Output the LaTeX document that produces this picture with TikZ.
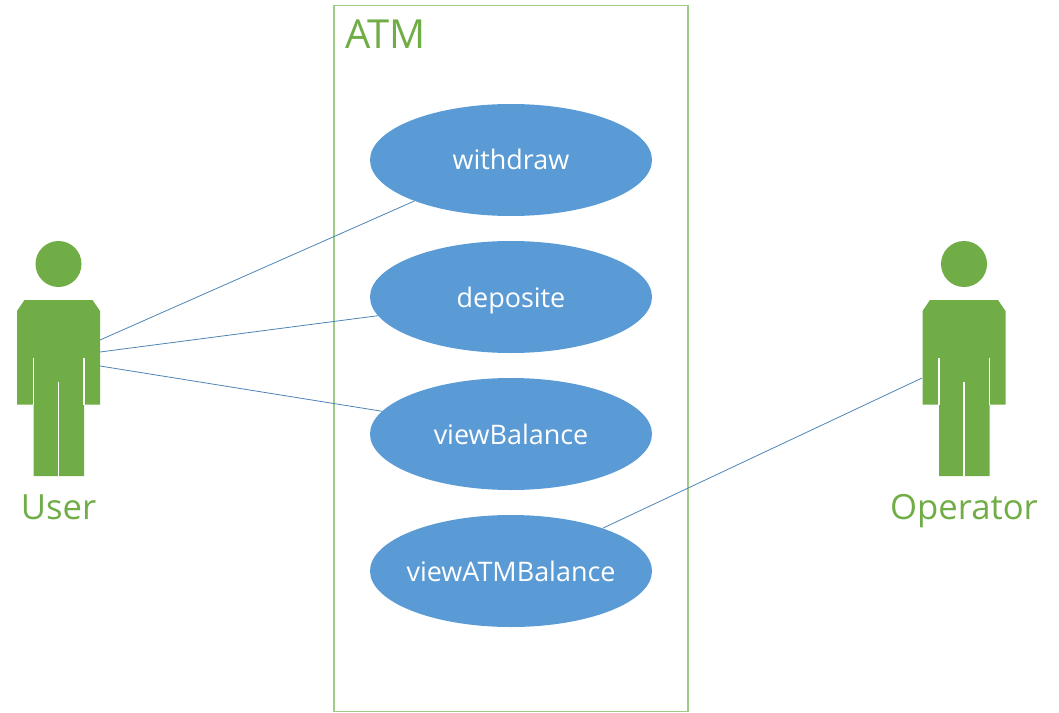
\documentclass[tikz,border=0pt]{standalone}
\usepackage{fontspec}
\setmainfont{Open Sans}
\usepackage{tikz}
\usetikzlibrary{shapes}

\definecolor{actorgreen}{HTML}{70AD47}
\definecolor{caseblue}{HTML}{5B9BD5}

\tikzset{
	usecase/.style={ellipse,fill=caseblue,text=white,minimum width=211.5pt,minimum height=84pt,inner ysep=0pt,inner xsep=-20pt,text height=15pt,text depth=0pt,font=\fontsize{20.2}{24}\selectfont},
	biglabel/.style={text=actorgreen,inner sep=0pt,font=\fontsize{26}{32}\selectfont},
	assoc/.style={draw=caseblue!85!black,line width=0.6pt},
	actor/.pic={
		\fill[actorgreen] (0,-264) circle (23);
		\fill[actorgreen] (-41.5,-311) -- (-34,-300) -- (34,-300) -- (41.5,-311) -- (41.5,-404.5) -- (25.5,-404.5) -- (25.5,-476) -- (-25,-476) -- (-25,-404.5) -- (-41.5,-404.5) -- cycle;
		\draw[white,line width=0.9pt] (-25,-358) -- (-25,-405);
		\draw[white,line width=0.9pt] (25.5,-358) -- (25.5,-405);
		\draw[white,line width=0.9pt] (0,-382) -- (0,-476);
	}
}

\begin{document}
\begin{tikzpicture}[x=0.75pt,y=0.75pt]
	\useasboundingbox (0,0) rectangle (1059,-713);
	
	\node[rectangle,draw=actorgreen!65,line width=0.8pt,minimum width=265.5pt,minimum height=529.5pt,inner sep=0pt] (atm) at (511,-358.5) {};
	\node[biglabel,anchor=base west,font=\fontsize{30}{36}\selectfont] (atmlabel) at (345,-49) {ATM};
	
	\node[usecase] (withdraw) at (511,-160) {withdraw};
	\node[usecase] (deposite) at (511,-297) {deposite};
	\node[usecase] (viewbalance) at (511,-434) {viewBalance};
	\node[usecase] (viewatm) at (511,-571) {viewATMBalance};
	
	\pic at (58.5,0) {actor};
	\pic at (964,0) {actor};
	\node[biglabel,anchor=base] (userlabel) at (58.5,-519) {User};
	\node[biglabel,anchor=base] (oplabel) at (964,-519) {Operator};
	
	\coordinate (usera) at (100,-340);
	\coordinate (userb) at (100,-352);
	\coordinate (userc) at (100,-366);
	\coordinate (opa) at (922,-378);
	
	\path[assoc] (usera) -- (withdraw.203.6);
	\path[assoc] (userb) -- (deposite.188.1);
	\path[assoc] (userc) -- (viewbalance.170);
	\path[assoc] (opa) -- (viewatm.25.8);
\end{tikzpicture}
\end{document}
